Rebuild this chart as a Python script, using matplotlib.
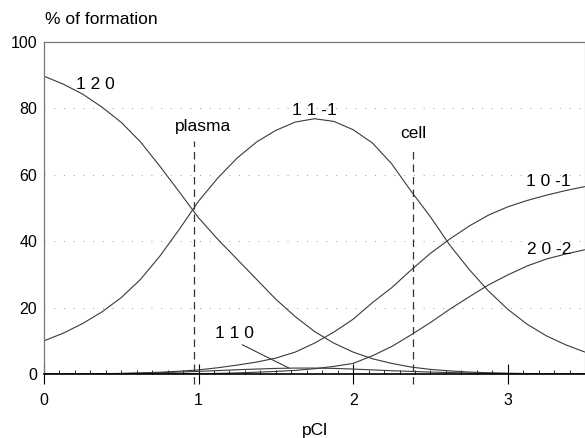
import matplotlib
matplotlib.use("Agg")
import matplotlib.pyplot as plt
from matplotlib.ticker import MultipleLocator

plt.rcParams['font.family'] = ['Liberation Sans', 'DejaVu Sans']

# pCl grid the curves were read on
pcl = [0, 0.125, 0.25, 0.375, 0.5, 0.625, 0.75, 0.875, 1.0, 1.125, 1.25, 1.375, 1.5,
       1.625, 1.75, 1.875, 2.0, 2.125, 2.25, 2.375, 2.5, 2.625, 2.75, 2.875, 3.0,
       3.125, 3.25, 3.375, 3.5]

# % of formation for each species
sp_120 = [89.6, 87.2, 84.2, 80.3, 75.7, 69.8, 62.5, 54.8, 47.0, 40.5, 34.5, 28.5, 22.5,
          17.3, 12.8, 9.3, 6.6, 4.6, 3.2, 2.1, 1.4, 0.95, 0.6, 0.4, 0.25,
          0.16, 0.1, 0.06, 0.04]
sp_11m1 = [10.0, 12.3, 15.2, 18.7, 23.0, 28.5, 35.5, 43.5, 52.0, 59.0, 65.0, 69.8, 73.3,
           75.8, 76.8, 76.0, 73.5, 69.5, 63.2, 55.0, 47.3, 38.8, 31.5, 25.0, 19.5,
           15.0, 11.5, 8.8, 6.6]
sp_10m1 = [0.02, 0.04, 0.07, 0.12, 0.2, 0.35, 0.55, 0.85, 1.25, 1.9, 2.7, 3.6, 4.8,
           6.6, 9.3, 12.6, 16.5, 21.5, 26.0, 31.3, 36.3, 40.6, 44.5, 47.8, 50.3,
           52.2, 53.8, 55.2, 56.4]
sp_20m2 = [0, 0, 0, 0, 0.01, 0.02, 0.04, 0.07, 0.12, 0.2, 0.35, 0.55, 0.8,
           1.1, 1.6, 2.3, 3.2, 5.5, 8.3, 11.8, 15.5, 19.5, 23.2, 26.8, 29.8,
           32.5, 34.6, 36.1, 37.4]
sp_110 = [0, 0.02, 0.05, 0.1, 0.15, 0.25, 0.4, 0.6, 0.8, 1.05, 1.3, 1.5, 1.7,
          1.8, 1.8, 1.7, 1.5, 1.25, 1.0, 0.8, 0.6, 0.45, 0.3, 0.22, 0.15,
          0.1, 0.07, 0.05, 0.03]

# plasma / cell markers
marker_names = ['plasma', 'cell']
marker_pcl = [0.97, 2.39]
marker_top = [70, 68]

fig = plt.figure(figsize=(5.85, 4.38), dpi=100)
ax = fig.add_axes([0.0752, 0.146, 0.9248, 0.759])

lc = '#3a3a3a'
for ys in [sp_120, sp_11m1, sp_10m1, sp_20m2, sp_110]:
    ax.plot(pcl, ys, color=lc, lw=0.8)

# dashed vertical markers, running a bit past the x axis
for name, xv, top in zip(marker_names, marker_pcl, marker_top):
    ax.plot([xv, xv], [-3, top], color='#333333', lw=0.9, ls=(0, (6, 4)), clip_on=False)
    ax.text(xv + 0.06 if name == 'plasma' else xv, top + 4.5, name,
            ha='center', va='center', fontsize=12.5)

# curve labels
ax.text(0.33, 87, '1 2 0', ha='center', va='center', fontsize=12.5)
ax.text(1.75, 79.3, '1 1 -1', ha='center', va='center', fontsize=12.5)
ax.text(3.26, 58, '1 0 -1', ha='center', va='center', fontsize=12.5)
ax.text(3.27, 37.6, '2 0 -2', ha='center', va='center', fontsize=12.5)
ax.annotate('1 1 0', xy=(1.585, 1.8), xytext=(1.23, 12.3),
            ha='center', va='center', fontsize=12.5,
            arrowprops=dict(arrowstyle='-', color=lc, lw=0.8,
                            shrinkA=2, shrinkB=0, relpos=(0.5, 0)))

ax.set_xlim(0, 3.5)
ax.set_ylim(0, 100)
ax.xaxis.set_major_locator(MultipleLocator(1))
ax.xaxis.set_minor_locator(MultipleLocator(0.1))
ax.yaxis.set_major_locator(MultipleLocator(20))
ax.tick_params(axis='x', which='major', direction='inout', length=14, width=0.8,
               labelsize=11.5, pad=7)
ax.tick_params(axis='x', which='minor', direction='in', length=3, width=0.6)
ax.tick_params(axis='y', length=0, labelsize=11.5, pad=5)

# sparse dotted grid
for gy in [20, 40, 60, 80]:
    ax.axhline(gy, color='#9a9a9a', lw=0.7, ls=(0, (1, 9)), zorder=0)

ax.spines['bottom'].set_color('black')
ax.spines['bottom'].set_linewidth(1.2)
ax.spines['left'].set_color('#777777')
ax.spines['top'].set_color('#777777')
ax.spines['right'].set_color('#bbbbbb')
for s in ['left', 'top', 'right']:
    ax.spines[s].set_linewidth(0.9)

fig.text(45 / 585, 1 - 20 / 438, '% of formation', ha='left', va='center', fontsize=12.5)
fig.text(315 / 585, 1 - 430 / 438, 'pCl', ha='center', va='center', fontsize=12.5)

fig.savefig('out.png', dpi=100)
